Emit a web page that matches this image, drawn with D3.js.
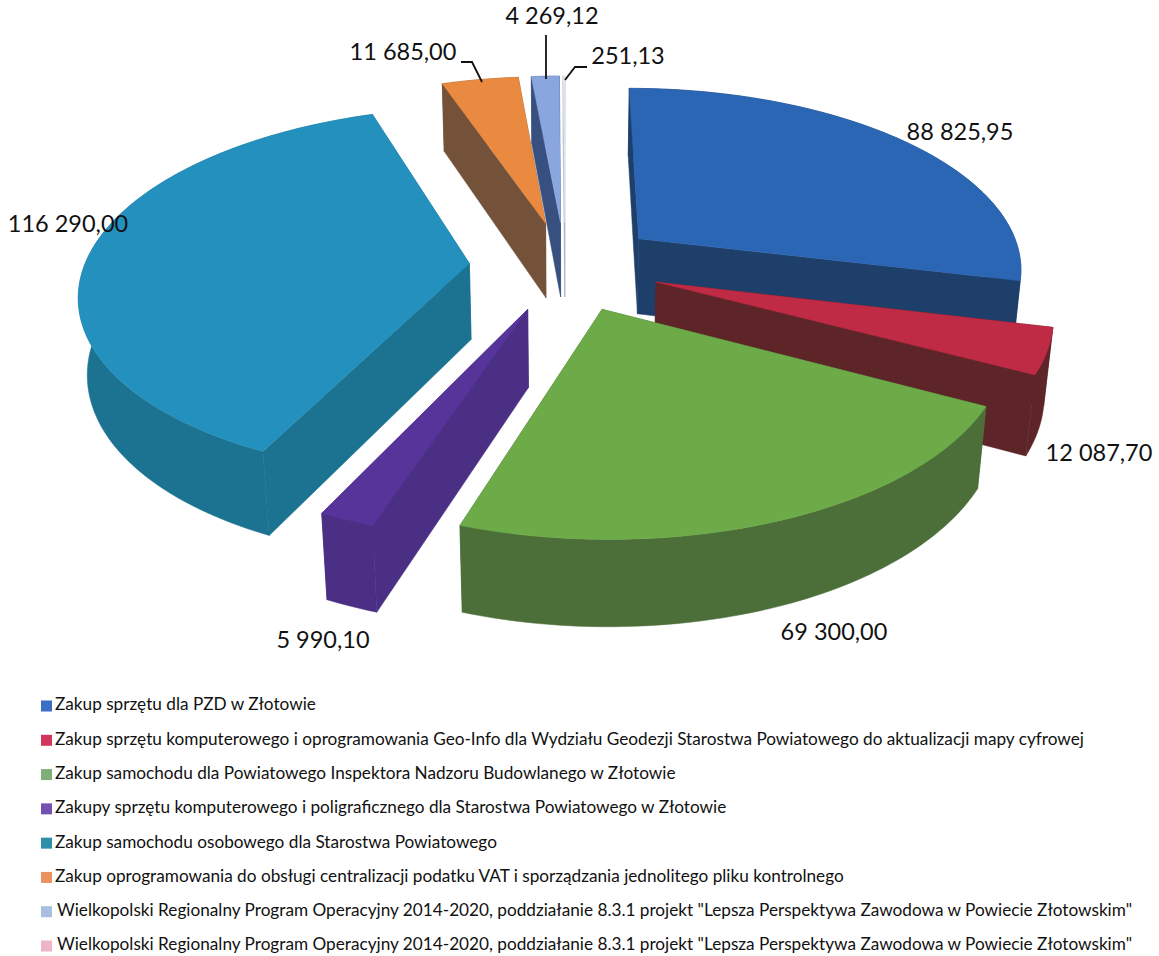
<!DOCTYPE html>
<html lang="pl">
<head>
<meta charset="utf-8">
<script src="https://d3js.org/d3.v7.min.js"></script>
<style>
html,body{margin:0;padding:0;background:#fff}
svg{display:block}
text{font-family:Lato,"Open Sans",sans-serif;fill:#111}
</style>
</head>
<body>
<svg id="chart" width="1159" height="956"></svg>
<script>
// Wydatki inwestycyjne: wartości w zł, w kolejności legendy
const categories = [
  'Zakup sprzętu dla PZD w Złotowie',
  'Zakup sprzętu komputerowego i oprogramowania Geo-Info dla Wydziału Geodezji Starostwa Powiatowego do aktualizacji mapy cyfrowej',
  'Zakup samochodu dla Powiatowego Inspektora Nadzoru Budowlanego w Złotowie',
  'Zakupy sprzętu komputerowego i poligraficznego dla Starostwa Powiatowego w Złotowie',
  'Zakup samochodu osobowego dla Starostwa Powiatowego',
  'Zakup oprogramowania do obsługi centralizacji podatku VAT i sporządzania jednolitego pliku kontrolnego',
  'Wielkopolski Regionalny Program Operacyjny 2014-2020, poddziałanie 8.3.1 projekt "Lepsza Perspektywa Zawodowa w Powiecie Złotowskim"',
  'Wielkopolski Regionalny Program Operacyjny 2014-2020, poddziałanie 8.3.1 projekt "Lepsza Perspektywa Zawodowa w Powiecie Złotowskim"'
];
const values = [88825.95, 12087.70, 69300.00, 5990.10, 116290.00, 11685.00, 4269.12, 251.13];
const topColors  = ['#2a66b4', '#bf2a45', '#6cab48', '#57349a', '#2490bd', '#ea8a40', '#8aa6df', '#e6e8f2'];
const wallColors = ['#1f3f6b', '#5e2529', '#4c6e38', '#4b2f85', '#1b7391', '#74523a', '#38507f', '#a9afc6'];
const legendColors = ['#3a6fc4', '#d1375a', '#7fae78', '#7450b0', '#2f8fa8', '#ec9160', '#a9bfe0', '#eeb4c8'];

// Etykiety wartości: środek tekstu oraz opcjonalna linia odniesienia
const labelLayout = [
  {x: 960, y: 134},
  {x: 1099, y: 455},
  {x: 834, y: 634},
  {x: 323, y: 642},
  {x: 68, y: 226},
  {x: 403, y: 54, leader: [[461, 62], [472, 62], [482, 82]]},
  {x: 552, y: 18, leader: [[546, 35], [546, 79]]},
  {x: 628, y: 58, leader: [[587, 67], [575, 67], [565, 80]]}
];

// Geometria rzutu perspektywicznego wycinków
const view = {cx: 565, cy: 266, radius: 385, explode: 96, depth: 88, tilt: 28 * Math.PI / 180, camera: 2250};

const plLocale = d3.formatLocale({decimal: ',', thousands: ' ', grouping: [3], currency: ['', ' zł']});
const money = plLocale.format(',.2f');

function project(x, y, z) {
  const sinT = Math.sin(view.tilt), cosT = Math.cos(view.tilt);
  const toward = y * cosT + z * sinT;
  const s = view.camera / (view.camera - toward);
  return [view.cx + x * s, view.cy + (y * sinT - z * cosT) * s];
}

const svg = d3.select('#chart');
const line = d3.line().curve(d3.curveLinear);
const pie = d3.pie().sort(null).value(d => d.value);
const slices = pie(values.map((value, i) => ({value, i})));

function pointOn(slice, radius, angle, z) {
  const mid = (slice.startAngle + slice.endAngle) / 2;
  const ox = view.explode * Math.sin(mid), oy = -view.explode * Math.cos(mid);
  return project(ox + radius * Math.sin(angle), oy - radius * Math.cos(angle), z);
}

function arcPoints(slice, z) {
  const steps = Math.max(2, Math.ceil((slice.endAngle - slice.startAngle) / 0.02));
  const angle = d3.scaleLinear().domain([0, steps]).range([slice.startAngle, slice.endAngle]);
  return d3.range(steps + 1).map(k => pointOn(slice, view.radius, angle(k), z));
}

// Wycinki malowane od najdalszych do najbliższych
const paintOrder = [5, 6, 7, 0, 4, 1, 3, 2];
const chart = svg.append('g').attr('class', 'pie');

paintOrder.forEach(i => {
  const s = slices[i];
  const g = chart.append('g').attr('class', 'slice');
  const topArc = arcPoints(s, 0);
  const lowArc = arcPoints(s, -view.depth);
  const apexTop = pointOn(s, 0, 0, 0);
  const apexLow = pointOn(s, 0, 0, -view.depth);
  const walls = [
    [apexTop, topArc[0], lowArc[0], apexLow],
    [apexTop, topArc[topArc.length - 1], lowArc[lowArc.length - 1], apexLow],
    topArc.concat(lowArc.slice().reverse())
  ];
  g.selectAll('path.wall').data(walls).join('path')
    .attr('class', 'wall')
    .attr('d', d => line(d) + 'Z')
    .attr('fill', wallColors[i])
    .attr('stroke', wallColors[i])
    .attr('stroke-width', 0.5);
  g.append('path')
    .attr('class', 'top')
    .attr('d', line([apexTop].concat(topArc)) + 'Z')
    .attr('fill', topColors[i])
    .attr('stroke', topColors[i])
    .attr('stroke-width', 0.5);
});

// Etykiety wartości i linie odniesienia
const labels = svg.append('g').attr('class', 'labels');
labelLayout.forEach((p, i) => {
  labels.append('text')
    .attr('x', p.x).attr('y', p.y)
    .attr('text-anchor', 'middle')
    .attr('dominant-baseline', 'middle')
    .attr('font-size', 23.5)
    .text(money(values[i]));
  if (p.leader) {
    labels.append('path')
      .attr('d', line(p.leader))
      .attr('fill', 'none')
      .attr('stroke', '#111')
      .attr('stroke-width', 1.8);
  }
});

// Legenda
const legendY = d3.scalePoint().domain(d3.range(categories.length)).range([706, 946]);
const legend = svg.append('g').attr('class', 'legend');
categories.forEach((name, i) => {
  legend.append('rect')
    .attr('x', 41).attr('y', legendY(i) - 5.5)
    .attr('width', 11).attr('height', 11)
    .attr('fill', legendColors[i]);
  legend.append('text')
    .attr('x', i >= 6 ? 57 : 55).attr('y', legendY(i))
    .attr('dominant-baseline', 'middle')
    .attr('font-size', 17.2)
    .text(name);
});
</script>
</body>
</html>
